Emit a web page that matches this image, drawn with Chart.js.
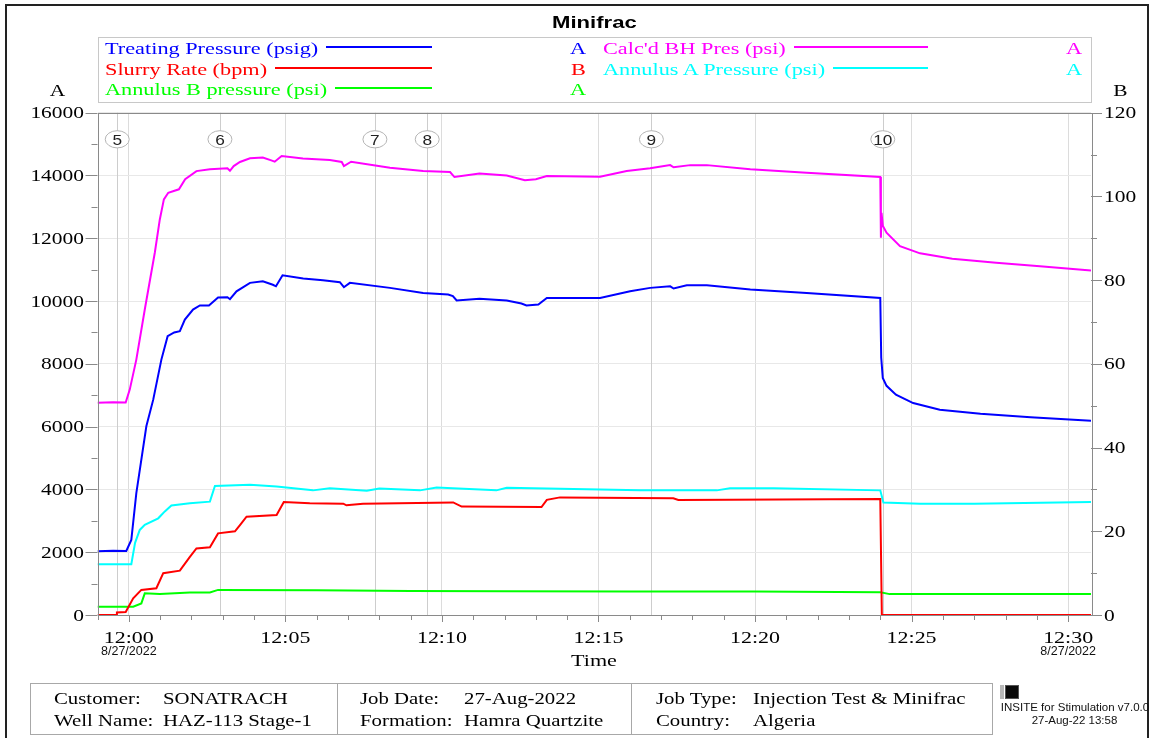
<!DOCTYPE html>
<html>
<head>
<meta charset="utf-8">
<title>Minifrac</title>
<script src="https://cdn.jsdelivr.net/npm/chart.js@4.4.0/dist/chart.umd.min.js"></script>
<style>
html, body { margin: 0; padding: 0; background: #fff; }
#page { position: relative; width: 1156px; height: 738px; overflow: hidden; }
#graph { position: absolute; left: 0; top: 0; }
#frame { position: absolute; left: 5px; top: 4px; width: 1144px; height: 760px; border: 2px solid #222; box-sizing: border-box; }
.t { position: absolute; white-space: nowrap; line-height: 1; transform-origin: 0 0; }
.box { position: absolute; box-sizing: border-box; }
</style>
</head>
<body>
<div id="page">
  <canvas id="graph" width="1156" height="738"></canvas>
  <div id="frame"></div>
</div>
<script>
// time in minutes after 12:00 on 8/27/2022
var tpTime = [-1.0, -0.5, -0.08, 0.08, 0.24, 0.56, 0.78, 1.04, 1.24, 1.45, 1.63, 1.79, 2.05, 2.27, 2.56, 2.85, 3.15, 3.23, 3.44, 3.87, 4.28, 4.6, 4.7, 4.91, 5.57, 6.2, 6.74, 6.87, 7.06, 8.34, 9.4, 10.2, 10.35, 10.47, 11.2, 12.07, 12.54, 12.7, 13.08, 13.35, 15.05, 16.01, 16.65, 17.29, 17.4, 17.82, 18.46, 19.85, 21.65, 24.0, 24.03, 24.08, 24.2, 24.5, 25.05, 25.9, 27.2, 28.8, 30.73];
var tpVal = [2030, 2050, 2040, 2390, 3880, 6010, 6860, 8135, 8880, 9000, 9040, 9410, 9730, 9860, 9860, 10110, 10120, 10060, 10310, 10580, 10630, 10520, 10470, 10820, 10720, 10660, 10600, 10440, 10580, 10420, 10260, 10210, 10160, 10020, 10070, 10020, 9920, 9860, 9890, 10100, 10100, 10310, 10420, 10470, 10400, 10500, 10500, 10370, 10260, 10100, 8200, 7550, 7300, 7020, 6750, 6540, 6410, 6300, 6190];

var srTime = [-1.0, -0.4, -0.38, -0.1, 0.14, 0.4, 0.88, 1.1, 1.63, 1.95, 2.16, 2.59, 2.85, 3.39, 3.55, 3.76, 4.72, 4.95, 5.78, 6.85, 6.95, 7.48, 10.36, 10.63, 13.18, 13.35, 13.77, 17.39, 17.55, 24.0, 24.05, 30.73];
var srVal = [0, 0, 0.6, 0.7, 4.0, 6.0, 6.4, 10.0, 10.6, 13.9, 15.9, 16.2, 19.5, 20.0, 21.5, 23.5, 23.9, 27.0, 26.7, 26.6, 26.2, 26.6, 26.9, 25.9, 25.8, 27.5, 28.1, 27.9, 27.5, 27.7, 0, 0];

var abTime = [-1.0, 0.14, 0.4, 0.51, 0.99, 1.95, 2.59, 2.85, 6.0, 9.0, 12.0, 16.0, 20.0, 24.0, 24.3, 30.73];
var abVal = [265, 265, 370, 690, 670, 720, 720, 800, 790, 765, 760, 750, 745, 725, 665, 670];

var bhTime = [-1.0, -0.5, -0.1, 0.03, 0.24, 0.51, 0.83, 0.99, 1.12, 1.26, 1.6, 1.8, 2.16, 2.59, 3.15, 3.23, 3.35, 3.55, 3.87, 4.28, 4.55, 4.66, 4.88, 5.56, 6.42, 6.8, 6.87, 7.1, 8.34, 9.4, 10.26, 10.4, 11.2, 12.07, 12.65, 13.0, 13.35, 15.05, 15.9, 16.65, 17.29, 17.4, 17.93, 18.46, 19.85, 21.65, 24.0, 24.02, 24.04, 24.08, 24.2, 24.63, 25.27, 26.3, 27.7, 29.1, 30.73];
var bhVal = [6760, 6780, 6770, 7180, 8135, 9730, 11540, 12600, 13240, 13450, 13560, 13880, 14140, 14200, 14230, 14150, 14300, 14430, 14550, 14570, 14480, 14440, 14620, 14540, 14490, 14430, 14300, 14440, 14250, 14140, 14110, 13950, 14060, 14000, 13850, 13880, 13980, 13960, 14140, 14230, 14330, 14260, 14330, 14330, 14200, 14090, 13950, 12020, 12810, 12400, 12180, 11750, 11520, 11350, 11220, 11110, 10970];

var aaTime = [-1.0, 0.08, 0.2, 0.35, 0.51, 0.94, 1.15, 1.36, 1.95, 2.59, 2.75, 3.87, 4.72, 5.88, 6.42, 7.6, 8.0, 9.3, 9.83, 11.74, 12.07, 14.2, 16.33, 18.78, 19.2, 20.6, 24.0, 24.1, 25.27, 27.0, 30.73];
var aaVal = [1620, 1620, 2300, 2710, 2870, 3080, 3300, 3490, 3560, 3610, 4110, 4150, 4090, 3970, 4040, 3960, 4030, 3970, 4060, 3970, 4050, 4010, 3970, 3970, 4040, 4040, 3970, 3580, 3540, 3545, 3600];

var seriesNames = ['Treating Pressure (psig)', 'Slurry Rate (bpm)', 'Annulus B pressure (psi)', "Calc'd BH Pres (psi)", 'Annulus A Pressure (psi)'];
var seriesColors = ['#0000ff', '#ff0000', '#00ff00', '#ff00ff', '#00ffff'];
var seriesAxis = ['A', 'B', 'A', 'A', 'A'];

var eventTimes = [-0.37, 2.91, 7.86, 9.53, 16.69, 24.08];
var eventLabels = ['5', '6', '7', '8', '9', '10'];

var xMin = -1.0, xMax = 30.73;
var dateLabel = '8/27/2022';

var footerLabels = [['Customer:', 'Well Name:'], ['Job Date:', 'Formation:'], ['Job Type:', 'Country:']];
var footerValues = [['SONATRACH', 'HAZ-113 Stage-1'], ['27-Aug-2022', 'Hamra Quartzite'], ['Injection Test & Minifrac', 'Algeria']];

var SERIF = '"Liberation Serif", "Times New Roman", serif';
var SANS = '"Liberation Sans", Arial, sans-serif';

var page = document.getElementById('page');

// html text placed by baseline, stretched sideways like the original print
function putText(s, x, base, o) {
  var el = document.createElement('div');
  el.className = 't';
  el.textContent = s;
  el.style.fontFamily = o.family || SERIF;
  el.style.fontSize = o.size + 'px';
  el.style.fontWeight = o.bold ? 'bold' : 'normal';
  el.style.color = o.color || '#000';
  el.style.top = (base - 0.84 * o.size) + 'px';
  el.style.transform = 'scaleX(' + (o.sx || 1) + ')';
  page.appendChild(el);
  var w = el.getBoundingClientRect().width;
  var left = o.align === 'center' ? x - w / 2 : (o.align === 'right' ? x - w : x);
  el.style.left = left + 'px';
  return left + w;
}

function putBox(l, t, w, h, css) {
  var el = document.createElement('div');
  el.className = 'box';
  el.style.left = l + 'px'; el.style.top = t + 'px';
  el.style.width = w + 'px'; el.style.height = h + 'px';
  for (var k in css) el.style[k] = css[k];
  page.appendChild(el);
  return el;
}

// title and legend
putText('Minifrac', 594, 28, {size: 17, family: SANS, bold: true, sx: 1.3, align: 'center'});
putBox(97.5, 37, 994, 66, {border: '1px solid #c8c8c8'});

var legX = [105, 603], legLineEnd = [431.7, 928.5], legLetter = [578, 1074.5];
var legBase = [54, 75, 95.7];
seriesNames.forEach(function(name, i) {
  var col = i < 3 ? 0 : 1, row = i < 3 ? i : i - 3;
  var right = putText(name, legX[col], legBase[row], {size: 17, sx: 1.31, color: seriesColors[i]});
  putBox(right + 8, legBase[row] - 8.3, legLineEnd[col] - right - 8, 2, {background: seriesColors[i]});
  putText(seriesAxis[i], legLetter[col], legBase[row], {size: 17, sx: 1.31, color: seriesColors[i], align: 'center'});
});

// footer
putBox(30, 683, 963, 52, {border: '1px solid #a8a8a8'});
putBox(336.5, 683, 1, 52, {background: '#a8a8a8'});
putBox(631, 683, 1, 52, {background: '#a8a8a8'});
var cellLabelX = [53.6, 359.7, 656], cellValueX = [162.6, 463.8, 752.8], rowBase = [704, 726];
footerLabels.forEach(function(cell, c) {
  cell.forEach(function(lbl, r) {
    putText(lbl, cellLabelX[c], rowBase[r], {size: 16, sx: 1.3});
    putText(footerValues[c][r], cellValueX[c], rowBase[r], {size: 16, sx: 1.3});
  });
});
putBox(1000, 685, 4, 14, {background: '#b8b8b8'});
putBox(1005, 685, 14, 14, {background: '#0a0a0a', border: '1px solid #555'});
putText('INSITE for Stimulation v7.0.0', 1075, 711.5, {size: 11.5, family: SANS, align: 'center', color: '#111'});
putText('27-Aug-22 13:58', 1074.5, 725, {size: 11.5, family: SANS, align: 'center', color: '#111'});

// canvas text, stretched the same way
function drawText(ctx, s, x, y, font, color, sx, align) {
  ctx.save();
  ctx.font = font;
  ctx.fillStyle = color;
  ctx.textAlign = 'left';
  ctx.textBaseline = 'alphabetic';
  var w = ctx.measureText(s).width * sx;
  var left = align === 'center' ? x - w / 2 : (align === 'right' ? x - w : x);
  ctx.translate(left, y);
  ctx.scale(sx, 1);
  ctx.fillText(s, 0, 0);
  ctx.restore();
}

function timeLabel(v) {
  var m = 12 * 60 + Math.round(v);
  var mm = m % 60;
  return Math.floor(m / 60) + ':' + (mm < 10 ? '0' : '') + mm;
}

var decor = {
  id: 'decor',
  beforeDatasetsDraw: function(chart) {
    var ctx = chart.ctx, a = chart.chartArea, xs = chart.scales.x;
    ctx.save();
    ctx.strokeStyle = '#cdcdcd';
    ctx.lineWidth = 1;
    eventTimes.forEach(function(t) {
      var px = Math.round(xs.getPixelForValue(t)) + 0.5;
      ctx.beginPath(); ctx.moveTo(px, a.top); ctx.lineTo(px, a.bottom); ctx.stroke();
    });
    ctx.restore();
  },
  afterDraw: function(chart) {
    var ctx = chart.ctx, a = chart.chartArea;
    var xs = chart.scales.x, ya = chart.scales.yA, yb = chart.scales.yB;
    var tickFont = '16.5px ' + SERIF;

    ctx.save();
    ctx.strokeStyle = '#8a8a8a';
    ctx.lineWidth = 1;
    ctx.strokeRect(Math.round(a.left) + 0.5, Math.round(a.top) + 0.5, Math.round(a.right - a.left), Math.round(a.bottom - a.top));

    ctx.beginPath();
    xs.ticks.forEach(function(t) {
      var px = Math.round(xs.getPixelForValue(t.value)) + 0.5;
      var len = Math.round(t.value) % 5 === 0 ? 7 : 5;
      ctx.moveTo(px, a.bottom); ctx.lineTo(px, a.bottom + len);
    });
    ya.ticks.forEach(function(t) {
      var py = Math.round(ya.getPixelForValue(t.value)) + 0.5;
      var len = t.value % 2000 === 0 ? 12 : 6;
      ctx.moveTo(a.left - len, py); ctx.lineTo(a.left, py);
    });
    yb.ticks.forEach(function(t) {
      var py = Math.round(yb.getPixelForValue(t.value)) + 0.5;
      var len = t.value % 20 === 0 ? 11 : 6;
      ctx.moveTo(a.right, py); ctx.lineTo(a.right + len, py);
    });
    ctx.stroke();
    ctx.restore();

    xs.ticks.forEach(function(t) {
      var v = Math.round(t.value);
      if (v % 5 !== 0) return;
      var px = xs.getPixelForValue(t.value);
      drawText(ctx, timeLabel(v), px, 642.7, tickFont, '#000', 1.33, 'center');
      if (v === 0 || v === 30) drawText(ctx, dateLabel, px, 655, '12.5px ' + SANS, '#111', 1, 'center');
    });
    ya.ticks.forEach(function(t) {
      if (t.value % 2000 !== 0) return;
      drawText(ctx, String(t.value), 84, ya.getPixelForValue(t.value) + 5.6, tickFont, '#000', 1.3, 'right');
    });
    yb.ticks.forEach(function(t) {
      if (t.value % 20 !== 0) return;
      drawText(ctx, String(t.value), 1104, yb.getPixelForValue(t.value) + 5.6, tickFont, '#000', 1.3, 'left');
    });
    drawText(ctx, 'A', 57.4, 95.5, tickFont, '#000', 1.3, 'center');
    drawText(ctx, 'B', 1120.4, 95.5, tickFont, '#000', 1.3, 'center');
    drawText(ctx, 'Time', 594, 666, '17px ' + SERIF, '#000', 1.3, 'center');

    eventTimes.forEach(function(t, i) {
      var px = xs.getPixelForValue(t), py = 139.3;
      ctx.save();
      ctx.beginPath();
      ctx.ellipse(px, py, 12, 8.6, 0, 0, Math.PI * 2);
      ctx.fillStyle = '#fff';
      ctx.fill();
      ctx.strokeStyle = '#b4b4b4';
      ctx.lineWidth = 1;
      ctx.stroke();
      ctx.restore();
      drawText(ctx, eventLabels[i], px, py + 5.4, '15px ' + SANS, '#222', 1.15, 'center');
    });
  }
};

function pts(ts, vs) {
  return ts.map(function(t, i) { return {x: t, y: vs[i]}; });
}

var seriesData = [pts(tpTime, tpVal), pts(srTime, srVal), pts(abTime, abVal), pts(bhTime, bhVal), pts(aaTime, aaVal)];

var ctx = document.getElementById('graph').getContext('2d');
var graph = new Chart(ctx, {
  type: 'line',
  data: {
    datasets: seriesNames.map(function(name, i) {
      return {
        label: name,
        data: seriesData[i],
        borderColor: seriesColors[i],
        backgroundColor: seriesColors[i],
        borderWidth: 2,
        pointRadius: 0,
        tension: 0,
        fill: false,
        yAxisID: seriesAxis[i] === 'B' ? 'yB' : 'yA'
      };
    })
  },
  options: {
    responsive: false,
    animation: false,
    devicePixelRatio: 1,
    layout: {padding: {top: 112.7, left: 0, right: 0, bottom: 0}},
    plugins: {legend: {display: false}, title: {display: false}, tooltip: {enabled: false}},
    scales: {
      x: {
        type: 'linear', position: 'bottom', min: xMin, max: xMax,
        afterFit: function(s) { s.height = 123; },
        ticks: {display: false, stepSize: 1, includeBounds: false},
        grid: {
          drawTicks: false,
          color: function(c) { return c.tick && Math.round(c.tick.value) % 5 === 0 ? '#dcdcdc' : 'rgba(0,0,0,0)'; }
        },
        border: {display: false}
      },
      yA: {
        position: 'left', min: 0, max: 16000,
        afterFit: function(s) { s.width = 97.5; },
        ticks: {display: false, stepSize: 1000},
        grid: {
          drawTicks: false,
          color: function(c) { return c.tick && c.tick.value % 2000 === 0 ? '#e8e8e8' : 'rgba(0,0,0,0)'; }
        },
        border: {display: false}
      },
      yB: {
        position: 'right', min: 0, max: 120,
        afterFit: function(s) { s.width = 65; },
        ticks: {display: false, stepSize: 10},
        grid: {display: false},
        border: {display: false}
      }
    }
  },
  plugins: [decor]
});
</script>
</body>
</html>
